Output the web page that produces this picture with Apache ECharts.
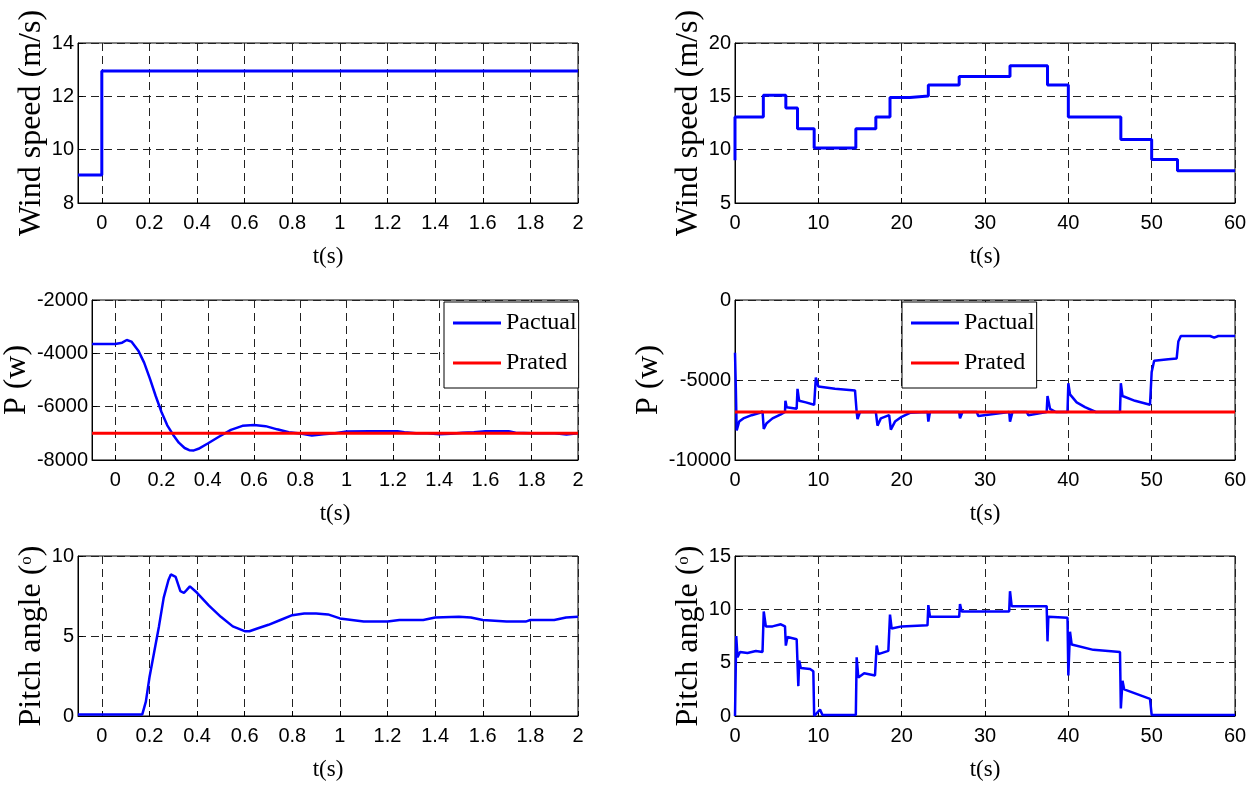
<!DOCTYPE html>
<html>
<head>
<meta charset="utf-8">
<script src="https://cdn.jsdelivr.net/npm/echarts@6/dist/echarts.min.js"></script>
<style>
html,body{margin:0;padding:0;background:#fff;}
#chart{width:1253px;height:785px;}
</style>
</head>
<body>
<div id="chart"></div>
<script>
// ---------- DATA ----------
const tickShort = [0, 0.2, 0.4, 0.6, 0.8, 1, 1.2, 1.4, 1.6, 1.8, 2];

// Wind speed, short test (m/s)
const wsShortT = [-0.1, 0, 0, 2];
const wsShortV = [9.05, 9.05, 12.95, 12.95];

// Wind speed, long test (step profile: value holds from t until next t)
const wsLongT = [0, 0, 3.4, 6.1, 7.5, 9.5, 14.5, 16.9, 18.6, 21.0, 23.2, 26.9, 33.0, 37.5, 40.0, 46.3, 50.0, 53.1, 60];
const wsLongV = [9, 13.07, 15.1, 13.9, 11.95, 10.15, 11.95, 13.07, 14.88, 15.03, 16.06, 16.86, 17.86, 16.06, 13.07, 10.96, 9.07, 8.02, 8.02];

// Power, short test (W)
const pShortT = [-0.1, 0, 0.03, 0.05, 0.07, 0.1, 0.125, 0.15, 0.175, 0.2, 0.225, 0.25, 0.275, 0.3, 0.32, 0.34, 0.36, 0.4, 0.45, 0.5, 0.55, 0.6, 0.65, 0.7, 0.75, 0.8, 0.85, 0.9, 0.95, 1.0, 1.1, 1.22, 1.25, 1.3, 1.35, 1.4, 1.45, 1.5, 1.55, 1.6, 1.7, 1.73, 1.8, 1.9, 1.95, 2.0];
const pShortV = [-3650, -3650, -3600, -3500, -3560, -3900, -4350, -4950, -5600, -6200, -6700, -7050, -7350, -7550, -7630, -7640, -7580, -7380, -7120, -6870, -6720, -6690, -6730, -6850, -6960, -7010, -7080, -7030, -7000, -6930, -6920, -6920, -6960, -7000, -7000, -7030, -7020, -6980, -6960, -6920, -6920, -6980, -7000, -7000, -7040, -7000];
const pRatedShortT = [-0.1, 2];
const pRatedShortV = [-7000, -7000];

// Power, long test (W)
const pLongT = [0, 0.1, 0.2, 0.5, 1, 2, 3, 3.3, 3.45, 3.8, 4.5, 5.5, 6.0, 6.05, 6.2, 7.4, 7.5, 7.7, 8.5, 9.5, 9.7, 10, 12, 14.4, 14.6, 14.7, 15, 16.9, 17.1, 17.5, 18.5, 18.7, 19.2, 20, 21, 23.1, 23.2, 23.4, 26.9, 27, 27.3, 29, 29.2, 32.9, 33, 33.3, 35, 35.2, 37.4, 37.5, 37.8, 38.5, 39.9, 40, 40.2, 41, 42, 43.3, 46.2, 46.3, 46.5, 48, 49.8, 50, 50.3, 52, 53, 53.2, 53.5, 57, 57.5, 58, 60];
const pLongV = [-3300, -5500, -8150, -7600, -7400, -7200, -7050, -6950, -8050, -7700, -7400, -7150, -7000, -6300, -6700, -6800, -5550, -6300, -6400, -6550, -4850, -5400, -5550, -5650, -7000, -7450, -7000, -7000, -7850, -7400, -7200, -8100, -7600, -7300, -7050, -7000, -7600, -7000, -7000, -7400, -7000, -7000, -7250, -7000, -7600, -7000, -7000, -7200, -7000, -6000, -6800, -7000, -7000, -5200, -5900, -6400, -6700, -7000, -7000, -5200, -6000, -6300, -6550, -4500, -3800, -3700, -3650, -2600, -2250, -2250, -2350, -2250, -2250];
const pRatedLongT = [0, 60];
const pRatedLongV = [-7000, -7000];

// Pitch angle, short test (deg)
const betaShortT = [-0.1, 0.17, 0.185, 0.2, 0.22, 0.24, 0.26, 0.28, 0.29, 0.31, 0.33, 0.345, 0.355, 0.37, 0.4, 0.45, 0.5, 0.55, 0.6, 0.62, 0.65, 0.7, 0.75, 0.8, 0.85, 0.9, 0.95, 1.0, 1.05, 1.1, 1.2, 1.25, 1.35, 1.4, 1.5, 1.55, 1.6, 1.65, 1.7, 1.78, 1.8, 1.9, 1.95, 2.0];
const betaShortV = [0.1, 0.1, 0.9, 2.4, 4.0, 5.6, 7.4, 8.5, 8.85, 8.7, 7.8, 7.7, 7.85, 8.1, 7.7, 6.9, 6.2, 5.6, 5.3, 5.3, 5.45, 5.7, 6.0, 6.3, 6.4, 6.4, 6.35, 6.1, 6.0, 5.9, 5.9, 6.0, 6.0, 6.15, 6.2, 6.15, 6.0, 5.95, 5.9, 5.9, 6.0, 6.0, 6.15, 6.2];

// Pitch angle, long test (deg)
const betaLongT = [0, 0.15, 0.3, 0.6, 1.5, 2.5, 3.3, 3.45, 3.7, 4.5, 5.5, 6.0, 6.1, 6.3, 7.4, 7.6, 7.7, 7.9, 9.0, 9.4, 9.5, 10.2, 10.5, 14.5, 14.6, 14.8, 15.5, 16.8, 17.0, 17.2, 18.4, 18.6, 18.8, 20, 23.1, 23.2, 23.4, 26.9, 27, 27.2, 32.9, 33.0, 33.2, 37.4, 37.5, 37.6, 39.9, 40.0, 40.2, 40.4, 43, 46.2, 46.3, 46.5, 46.7, 49.8, 50, 60];
const betaLongV = [0, 7.5, 5.5, 6.0, 5.9, 6.1, 6.0, 9.8, 8.4, 8.4, 8.6, 8.4, 6.6, 7.4, 7.2, 2.8, 5.2, 4.5, 4.4, 4.2, 0, 0.6, 0.1, 0.1, 5.5, 3.6, 4.0, 3.8, 6.6, 5.8, 6.1, 9.5, 8.2, 8.4, 8.5, 10.4, 9.3, 9.3, 10.5, 9.8, 9.8, 11.7, 10.3, 10.3, 7.0, 9.3, 9.2, 3.8, 7.9, 6.7, 6.2, 6.0, 0.7, 3.3, 2.5, 1.6, 0.1, 0.1];

// ---------- CHART ----------
const zip = (xs, ys) => xs.map((x, i) => [x, ys[i]]);
const SERIF = "'Liberation Serif', 'Times New Roman', serif";
const SANS = "'Liberation Sans Narrow', 'Liberation Sans', Arial, sans-serif";
const W = 500, H = 160;
const boxes = [[78, 43], [735, 43], [78, 300], [735, 300], [78, 556], [735, 556]];

const grids = boxes.map(b => ({
  left: b[0], top: b[1], width: W, height: H,
  show: true, borderColor: '#000', borderWidth: 1, backgroundColor: '#fff'
}));

const splitStyle = { show: true, lineStyle: { type: [8, 5], color: '#222', width: 1 } };
const labelStyle = { color: '#000', fontSize: 20, fontFamily: SANS };
const nameStyle = { color: '#000', fontSize: 23, fontFamily: SERIF };

function xShort(gi) {
  return {
    gridIndex: gi, type: 'value', min: -0.1, max: 2,
    axisLine: { show: true, onZero: false, lineStyle: { color: '#000' } },
    axisTick: { inside: true, length: 5, customValues: tickShort, lineStyle: { color: '#000' } },
    axisLabel: Object.assign({ margin: 10, customValues: tickShort, formatter: v => String(+(+v).toFixed(1)) }, labelStyle),
    splitLine: splitStyle,
    name: 't(s)', nameLocation: 'middle', nameGap: 42, nameTextStyle: nameStyle
  };
}
function xLong(gi) {
  return {
    gridIndex: gi, type: 'value', min: 0, max: 60, interval: 10,
    axisLine: { show: true, onZero: false, lineStyle: { color: '#000' } },
    axisTick: { inside: true, length: 5, lineStyle: { color: '#000' } },
    axisLabel: Object.assign({ margin: 10, formatter: v => String(v) }, labelStyle),
    splitLine: splitStyle,
    name: 't(s)', nameLocation: 'middle', nameGap: 42, nameTextStyle: nameStyle
  };
}
function yAx(gi, min, max, interval, name, gap, rich) {
  const ns = { color: '#000', fontSize: 32, fontFamily: SERIF };
  if (rich) ns.rich = rich;
  return {
    gridIndex: gi, type: 'value', min, max, interval,
    axisLine: { show: true, onZero: false, lineStyle: { color: '#000' } },
    axisTick: { inside: true, length: 5, lineStyle: { color: '#000' } },
    axisLabel: Object.assign({ margin: 4, formatter: v => String(v) }, labelStyle),
    splitLine: splitStyle,
    name, nameLocation: 'middle', nameGap: gap, nameTextStyle: ns
  };
}
const supRich = { sup: { fontSize: 17, fontFamily: SERIF, color: '#000', verticalAlign: 'top', padding: [2, 0, 0, 0] } };

function line(name, gi, data, color, width, step) {
  const s = {
    name, type: 'line', xAxisIndex: gi, yAxisIndex: gi, data,
    showSymbol: false, symbol: 'none', animation: false,
    lineStyle: { color, width }, itemStyle: { color }
  };
  if (step) s.step = step;
  return s;
}

function legendAt(left) {
  return {
    data: ['Pactual', 'Prated'], orient: 'vertical', left, top: 302,
    backgroundColor: '#fff', borderColor: '#000', borderWidth: 1,
    padding: [7, 2, 11, 9], itemGap: 12, itemWidth: 48, itemHeight: 3,
    icon: 'rect', selectedMode: false,
    textStyle: { color: '#000', fontSize: 24, fontFamily: SERIF, lineHeight: 28 }
  };
}

const option = {
  backgroundColor: '#fff',
  animation: false,
  grid: grids,
  xAxis: [xShort(0), xLong(1), xShort(2), xLong(3), xShort(4), xLong(5)],
  yAxis: [
    yAx(0, 8, 14, 2, 'Wind speed (m/s)', 14),
    yAx(1, 5, 20, 5, 'Wind speed (m/s)', 14),
    yAx(2, -8000, -2000, 2000, 'P (w)', 44),
    yAx(3, -10000, 0, 5000, 'P (w)', 48),
    yAx(4, 0, 10, 5, 'Pitch angle ({sup|o})', 16, supRich),
    yAx(5, 0, 15, 5, 'Pitch angle ({sup|o})', 18, supRich)
  ],
  legend: [legendAt(444), legendAt(902)],
  series: [
    line('ws1', 0, zip(wsShortT, wsShortV), '#0000ff', 3),
    line('ws2', 1, zip(wsLongT, wsLongV), '#0000ff', 3, 'end'),
    line('Pactual', 2, zip(pShortT, pShortV), '#0000ff', 2.5),
    line('Prated', 2, zip(pRatedShortT, pRatedShortV), '#ff0000', 3),
    line('Pactual', 3, zip(pLongT, pLongV), '#0000ff', 2.5),
    line('Prated', 3, zip(pRatedLongT, pRatedLongV), '#ff0000', 3),
    line('beta1', 4, zip(betaShortT, betaShortV), '#0000ff', 2.5),
    line('beta2', 5, zip(betaLongT, betaLongV), '#0000ff', 2.5)
  ]
};

const chart = echarts.init(document.getElementById('chart'), null, { renderer: 'canvas' });
chart.setOption(option);
</script>
</body>
</html>
